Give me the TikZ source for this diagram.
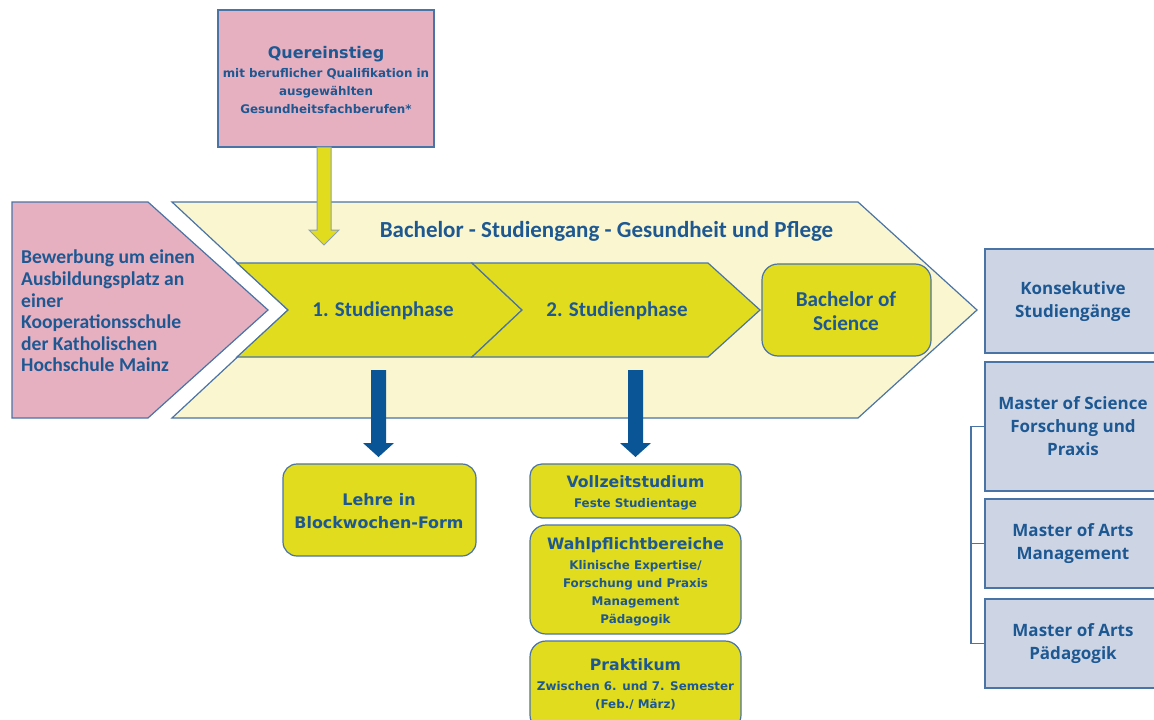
\documentclass[tikz,border=0pt]{standalone}
\usepackage{fontspec}
\setmainfont{Carlito}
\newfontfamily\vfont{DejaVu Sans}
\newfontfamily\ofont{Open Sans}
\definecolor{txt}{HTML}{1D5893}
\definecolor{pinkf}{HTML}{E6B0C0}
\definecolor{creamf}{HTML}{FAF6D0}
\definecolor{yell}{HTML}{E2DC1E}
\definecolor{greyf}{HTML}{CDD5E4}
\definecolor{bord}{HTML}{4A74A6}
\definecolor{arrb}{HTML}{0A5596}
\definecolor{arry}{HTML}{8AA0B8}
\begin{document}
\begin{tikzpicture}[x=1pt,y=-1pt,
  shapeline/.style={draw=bord,line width=1.2pt,line join=miter},
  pinkshape/.style={shapeline,fill=pinkf},
  creamshape/.style={shapeline,fill=creamf},
  yellshape/.style={shapeline,fill=yell},
  lbl/.style={text=txt,font=\bfseries,inner sep=0pt},
  ybox/.style={draw=bord,line width=1.2pt,fill=yell,rounded corners=14pt},
  gbox/.style={draw=bord,line width=1.2pt,fill=greyf},
  bigarrow/.style={fill=arrb},
  yarrow/.style={fill=yell,draw=arry,line width=1pt},
  bracket/.style={draw=bord,line width=1.6pt},
  subfont/.style={font=\vfont\bfseries\fontsize{11.9}{18}\selectfont},
  rfont/.style={font=\ofont\bfseries\fontsize{17}{23}\selectfont}]
\clip (0,0) rectangle (1154,720);
\fill[white] (0,0) rectangle (1154,720);

% pink chevron
\draw[pinkshape] (12,202) -- (148,202) -- (268,310) -- (148,418) -- (12,418) -- cycle;
% cream chevron
\draw[creamshape] (172,202) -- (858,202) -- (977,310) -- (858,418) -- (172,418) -- (288,310) -- cycle;
% yellow chevrons
\draw[yellshape] (237,263) -- (472,263) -- (522,310) -- (472,357) -- (237,357) -- (288,310) -- cycle;
\draw[yellshape] (472,263) -- (708,263) -- (760,310) -- (708,357) -- (472,357) -- (522,310) -- cycle;

% Bachelor of Science box
\node[ybox,rounded corners=16pt,minimum width=169pt,minimum height=92pt,inner sep=0pt] (bscbox) at (846.5,310) {};
\node[lbl,align=center,font=\bfseries\fontsize{21.2}{24}\selectfont] (bsc) at (846,311) {Bachelor of\\Science};

\node[lbl,align=left,anchor=west,font=\bfseries\fontsize{19.6}{21.6}\selectfont] (bew) at (21,311)
  {Bewerbung um einen\\Ausbildungsplatz an\\einer\\Kooperationsschule\\der Katholischen\\Hochschule Mainz};

\node[lbl,font=\bfseries\fontsize{23}{24}\selectfont] (bach) at (606.5,231) {Bachelor - Studiengang - Gesundheit und Pflege};
\node[lbl,font=\bfseries\fontsize{21}{22}\selectfont] (p1) at (383,311) {1. Studienphase};
\node[lbl,font=\bfseries\fontsize{21}{22}\selectfont] (p2) at (617,311) {2. Studienphase};

% top pink box
\node[draw=bord,line width=1.2pt,fill=pinkf,minimum width=216pt,minimum height=137pt,inner sep=0pt] (quer) at (326,78.5) {};
\node[lbl,align=center,subfont] (quertxt) at (326,80.5) {{\fontsize{16}{18}\selectfont Quereinstieg}\\[1pt]
  mit beruflicher Qualifikation in\\ausgewählten\\Gesundheitsfachberufen*};

% yellow arrow down
\draw[yarrow] (317,147) -- (331,147) -- (331,230) -- (339,230) -- (324,245) -- (309,230) -- (317,230) -- cycle;

% blue arrows
\fill[bigarrow] (371,370) -- (386,370) -- (386,443) -- (394,443) -- (378.5,457) -- (363,443) -- (371,443) -- cycle;
\fill[bigarrow] (628,370) -- (643,370) -- (643,443) -- (651,443) -- (635.5,457) -- (620,443) -- (628,443) -- cycle;

% lower left box
\node[ybox,minimum width=193pt,minimum height=92pt,inner sep=0pt] (lehre) at (379.5,510) {};
\node[lbl,align=center,font={\vfont\bfseries\fontsize{15.9}{23}\selectfont}] (lehretxt) at (379,511) {Lehre in\\Blockwochen-Form};

% right-lower stack
\node[ybox,rounded corners=12pt,minimum width=211pt,minimum height=54pt,inner sep=0pt] (voll) at (635.5,491) {};
\node[lbl,align=center,subfont] (volltxt) at (635.5,492.5) {{\fontsize{15.7}{18}\selectfont Vollzeitstudium}\\[2pt]Feste Studientage};

\node[ybox,rounded corners=16pt,minimum width=211pt,minimum height=109pt,inner sep=0pt] (wahl) at (635.5,579.5) {};
\node[lbl,align=center,subfont] (wahltxt) at (635.5,581.5) {{\fontsize{15.7}{18}\selectfont Wahlpflichtbereiche}\\[2pt]Klinische Expertise/\\Forschung und Praxis\\Management\\Pädagogik};

\node[ybox,rounded corners=16pt,minimum width=211pt,minimum height=90pt,inner sep=0pt] (prak) at (635.5,686) {};
\node[lbl,align=center,subfont] (praktxt) at (635.5,684.5) {{\fontsize{15.7}{18}\selectfont Praktikum}\\[2pt]Zwischen 6. und 7. Semester\\(Feb./ März)};

% right boxes
\node[gbox,minimum width=176pt,minimum height=104pt,inner sep=0pt] (kons) at (1073,301) {};
\node[lbl,align=center,rfont] (konstxt) at (1073,301.5) {Konsekutive\\Studiengänge};
\node[gbox,minimum width=176pt,minimum height=129pt,inner sep=0pt] (msc) at (1073,426.5) {};
\node[lbl,align=center,rfont] (msctxt) at (1073,426.5) {Master of Science\\Forschung und\\Praxis};
\node[gbox,minimum width=176pt,minimum height=89pt,inner sep=0pt] (mam) at (1073,543.5) {};
\node[lbl,align=center,rfont] (mamtxt) at (1073,544) {Master of Arts\\Management};
\node[gbox,minimum width=176pt,minimum height=89pt,inner sep=0pt] (map) at (1073,643.5) {};
\node[lbl,align=center,rfont] (maptxt) at (1073,644) {Master of Arts\\Pädagogik};

% bracket
\coordinate (bx) at (971,0);
\draw[bracket] (msc.west) -| (bx |- map.west) -- (map.west);
\draw[bracket] (mam.west) -- (bx |- mam.west);
\end{tikzpicture}
\end{document}
